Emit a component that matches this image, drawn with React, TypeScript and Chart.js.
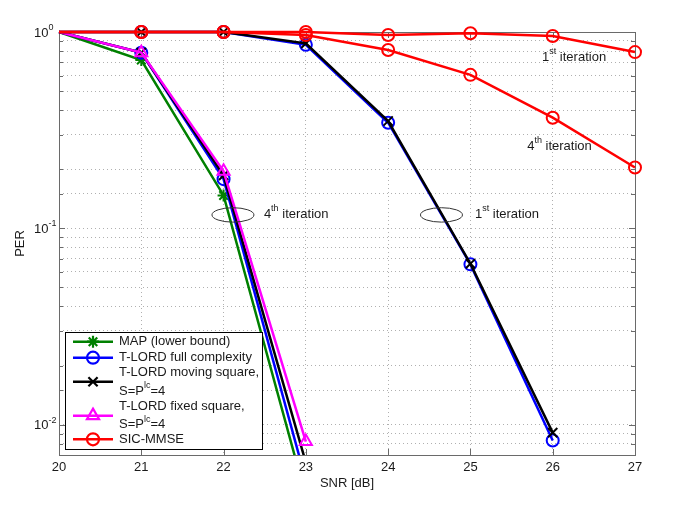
import React, { useEffect, useRef } from 'react';
import { Chart, registerables } from 'chart.js';
import { drawPoint } from 'chart.js/helpers';

Chart.register(...registerables);

// ---------------- data ----------------
const snr = [20, 21, 22, 23, 24, 25, 26, 27];

// 4th iteration curves
const mapLowerBound4 = [1.0, 0.72, 0.147, 0.0043];
const tlordFull4 = [1.0, 0.785, 0.178, 0.0052];
const tlordMoving4 = [1.0, 0.785, 0.186, 0.0064];
const tlordFixed4 = [1.0, 0.785, 0.195, 0.0082];

// 1st iteration curves
const tlordFull1 = [1.0, 1.0, 1.0, 0.86, 0.345, 0.0655, 0.0083];
const tlordMoving1 = [1.0, 1.0, 1.0, 0.875, 0.352, 0.066, 0.0091];
const sicMmse1 = [1.0, 1.0, 1.0, 1.0, 0.965, 0.985, 0.955, 0.79];
const sicMmse4 = [1.0, 1.0, 1.0, 0.965, 0.81, 0.605, 0.366, 0.204];

const xTicks = [20, 21, 22, 23, 24, 25, 26, 27];
const yDecadeLabels = [
  { v: 1, exp: '0' },
  { v: 0.1, exp: '-1' },
  { v: 0.01, exp: '-2' },
];

const legendLabels = [
  ['MAP (lower bound)'],
  ['T-LORD full complexity'],
  ['T-LORD moving square,', 'S=P^{lc}=4'],
  ['T-LORD fixed square,', 'S=P^{lc}=4'],
  ['SIC-MMSE'],
];
const legendDatasetIndex = [0, 1, 2, 3, 6];

const annotationTexts = [
  { x: 25.87, y: 0.745, text: '1^{st} iteration' },
  { x: 25.69, y: 0.262, text: '4^{th} iteration' },
  { x: 22.49, y: 0.118, text: '4^{th} iteration' },
  { x: 25.055, y: 0.118, text: '1^{st} iteration' },
];
const annotationEllipses = [
  { x: 22.114, y: 0.117 },
  { x: 24.648, y: 0.117 },
];

// ---------------- styles ----------------
const FONT = '"Liberation Sans", Arial, Helvetica, sans-serif';
const TEXT = '#1a1a1a';
const GREEN = '#008000';
const BLUE = '#0000ff';
const BLACK = '#000000';
const MAGENTA = '#ff00ff';
const RED = '#ff0000';

const toXY = (arr: number[]) => arr.map((v, i) => ({ x: snr[i], y: v }));

function parseRich(s: string) {
  const parts: { t: string; sup: boolean }[] = [];
  const re = /\^\{([^}]*)\}/g;
  let last = 0;
  let m: RegExpExecArray | null;
  while ((m = re.exec(s))) {
    if (m.index > last) parts.push({ t: s.slice(last, m.index), sup: false });
    parts.push({ t: m[1], sup: true });
    last = m.index + m[0].length;
  }
  if (last < s.length) parts.push({ t: s.slice(last), sup: false });
  return parts;
}

function drawRich(ctx: CanvasRenderingContext2D, x: number, y: number, s: string, size = 13) {
  let cx = x;
  ctx.textAlign = 'left';
  ctx.textBaseline = 'middle';
  for (const p of parseRich(s)) {
    if (p.sup) {
      ctx.font = `${Math.round(size * 0.72)}px ${FONT}`;
      ctx.fillText(p.t, cx, y - size * 0.42);
    } else {
      ctx.font = `${size}px ${FONT}`;
      ctx.fillText(p.t, cx, y);
    }
    cx += ctx.measureText(p.t).width;
  }
  return cx - x;
}

const isDecade = (v: number) => Math.abs(Math.log10(v) - Math.round(Math.log10(v))) < 1e-6;

const decorPlugin = {
  id: 'decor',
  beforeDatasetsDraw(chart: any) {
    const { ctx, chartArea: a } = chart;
    const xs = chart.scales.x;
    const ys = chart.scales.y;
    ctx.save();
    ctx.setLineDash([]);
    ctx.strokeStyle = '#6a6a6a';
    ctx.lineWidth = 1;
    ctx.strokeRect(a.left + 0.5, a.top + 0.5, a.right - a.left, a.bottom - a.top);
    ctx.beginPath();
    for (const t of xs.ticks) {
      const px = Math.round(xs.getPixelForValue(t.value)) + 0.5;
      ctx.moveTo(px, a.bottom);
      ctx.lineTo(px, a.bottom - 6);
      ctx.moveTo(px, a.top);
      ctx.lineTo(px, a.top + 6);
    }
    for (const t of ys.ticks) {
      const py = Math.round(ys.getPixelForValue(t.value)) + 0.5;
      const len = isDecade(t.value) ? 6 : 4;
      ctx.moveTo(a.left, py);
      ctx.lineTo(a.left + len, py);
      ctx.moveTo(a.right, py);
      ctx.lineTo(a.right - len, py);
    }
    ctx.stroke();
    ctx.restore();
  },
  afterDraw(chart: any) {
    const { ctx, chartArea: a } = chart;
    const xs = chart.scales.x;
    const ys = chart.scales.y;
    ctx.save();
    ctx.fillStyle = TEXT;

    // y decade labels 10^n
    for (const d of yDecadeLabels) {
      const py = ys.getPixelForValue(d.v);
      drawRich(ctx, a.left - 25, py + 1, `10^{${d.exp}}`, 13);
    }

    // axis titles
    ctx.font = `13px ${FONT}`;
    ctx.textAlign = 'center';
    ctx.textBaseline = 'middle';
    ctx.fillText('SNR [dB]', (a.left + a.right) / 2, a.bottom + 28);
    ctx.save();
    ctx.translate(20, (a.top + a.bottom) / 2);
    ctx.rotate(-Math.PI / 2);
    ctx.fillText('PER', 0, 0);
    ctx.restore();

    // annotations
    for (const t of annotationTexts) {
      drawRich(ctx, xs.getPixelForValue(t.x), ys.getPixelForValue(t.y), t.text, 13);
    }
    ctx.strokeStyle = '#333';
    ctx.lineWidth = 1;
    for (const e of annotationEllipses) {
      ctx.beginPath();
      ctx.ellipse(xs.getPixelForValue(e.x), ys.getPixelForValue(e.y), 21, 7.2, 0, 0, Math.PI * 2);
      ctx.stroke();
    }

    // legend
    const bw = 197;
    const bh = 117;
    const bx = a.left + 6;
    const by = a.bottom - 6 - bh;
    ctx.fillStyle = '#ffffff';
    ctx.fillRect(bx, by, bw, bh);
    ctx.strokeStyle = '#000';
    ctx.lineWidth = 1;
    ctx.strokeRect(bx + 0.5, by + 0.5, bw, bh);
    const rowOffsets = [9.7, 25.7, 40.5, 59, 74.8, 92.5, 107.3];
    let r = 0;
    legendLabels.forEach((lines, i) => {
      const ds = chart.data.datasets[legendDatasetIndex[i]];
      const ys0 = by + rowOffsets[r];
      const ys1 = by + rowOffsets[r + lines.length - 1];
      const my = (ys0 + ys1) / 2;
      ctx.strokeStyle = ds.borderColor;
      ctx.lineWidth = ds.borderWidth;
      ctx.beginPath();
      ctx.moveTo(bx + 8, my);
      ctx.lineTo(bx + 48, my);
      ctx.stroke();
      ctx.save();
      ctx.strokeStyle = ds.borderColor;
      ctx.fillStyle = 'rgba(0,0,0,0)';
      ctx.lineWidth = 2.2;
      drawPoint(
        ctx,
        {
          pointStyle: ds.pointStyle,
          radius: ds.legendRadius,
          borderWidth: 2.2,
          rotation: 0,
        } as any,
        bx + 28,
        my,
      );
      ctx.restore();
      ctx.fillStyle = TEXT;
      lines.forEach((ln, k) => {
        drawRich(ctx, bx + 54, by + rowOffsets[r + k], ln, 13);
      });
      r += lines.length;
    });
    ctx.restore();
  },
};

function makeDs(label: string, arr: number[], color: string, style: string, radius: number, order: number) {
  return {
    label,
    data: toXY(arr),
    borderColor: color,
    backgroundColor: 'rgba(0,0,0,0)',
    pointBorderColor: color,
    pointBackgroundColor: 'rgba(0,0,0,0)',
    borderWidth: 2.5,
    pointBorderWidth: 2,
    pointStyle: style,
    pointRadius: (c: any) => (c.raw && c.raw.x <= 20 ? 0 : radius),
    legendRadius: radius,
    tension: 0,
    order,
    clip: { left: 10, top: 10, right: 10, bottom: 0 },
  };
}

export default function App() {
  const ref = useRef<HTMLCanvasElement>(null);
  useEffect(() => {
    const canvas = ref.current!;
    const chart = new Chart(canvas, {
      type: 'line',
      data: {
        datasets: [
          makeDs('MAP (lower bound)', mapLowerBound4, GREEN, 'star', 6, 8),
          makeDs('T-LORD full complexity', tlordFull4, BLUE, 'circle', 6, 7),
          makeDs('T-LORD moving square', tlordMoving4, BLACK, 'crossRot', 6.5, 6),
          makeDs('T-LORD fixed square', tlordFixed4, MAGENTA, 'triangle', 7, 5),
          makeDs('T-LORD full complexity 1st', tlordFull1, BLUE, 'circle', 6, 4),
          makeDs('T-LORD moving square 1st', tlordMoving1, BLACK, 'crossRot', 6.5, 3),
          makeDs('SIC-MMSE', sicMmse1, RED, 'circle', 6, 2),
          makeDs('SIC-MMSE 4th', sicMmse4, RED, 'circle', 6, 1),
        ] as any,
      },
      options: {
        animation: false,
        responsive: false,
        devicePixelRatio: 1,
        layout: { padding: { left: 0, top: 32, right: 50, bottom: 0 } },
        plugins: { legend: { display: false }, tooltip: { enabled: false }, title: { display: false } },
        scales: {
          x: {
            type: 'linear',
            min: 20,
            max: 27,
            afterBuildTicks: (s: any) => {
              s.ticks = xTicks.map((v) => ({ value: v }));
            },
            ticks: {
              autoSkip: false,
              color: TEXT,
              font: { family: FONT, size: 13 },
              padding: 5,
              maxRotation: 0,
            },
            grid: { color: '#b0b0b0', lineWidth: 1, drawTicks: false },
            border: { display: false, dash: [1, 3] },
            afterFit: (s: any) => {
              s.height = 57;
            },
          },
          y: {
            type: 'logarithmic',
            min: 0.007,
            max: 1,
            ticks: { display: false, autoSkip: false },
            grid: { color: '#b0b0b0', lineWidth: 1, drawTicks: false },
            border: { display: false, dash: [1, 3] },
            afterFit: (s: any) => {
              s.width = 59;
            },
          },
        },
      } as any,
      plugins: [decorPlugin],
    });
    return () => chart.destroy();
  }, []);
  return (
    <div style={{ position: 'fixed', left: 0, top: 0, width: 685, height: 512, background: '#fff' }}>
      <canvas ref={ref} width={685} height={512} style={{ display: 'block', width: 685, height: 512 }} />
    </div>
  );
}
